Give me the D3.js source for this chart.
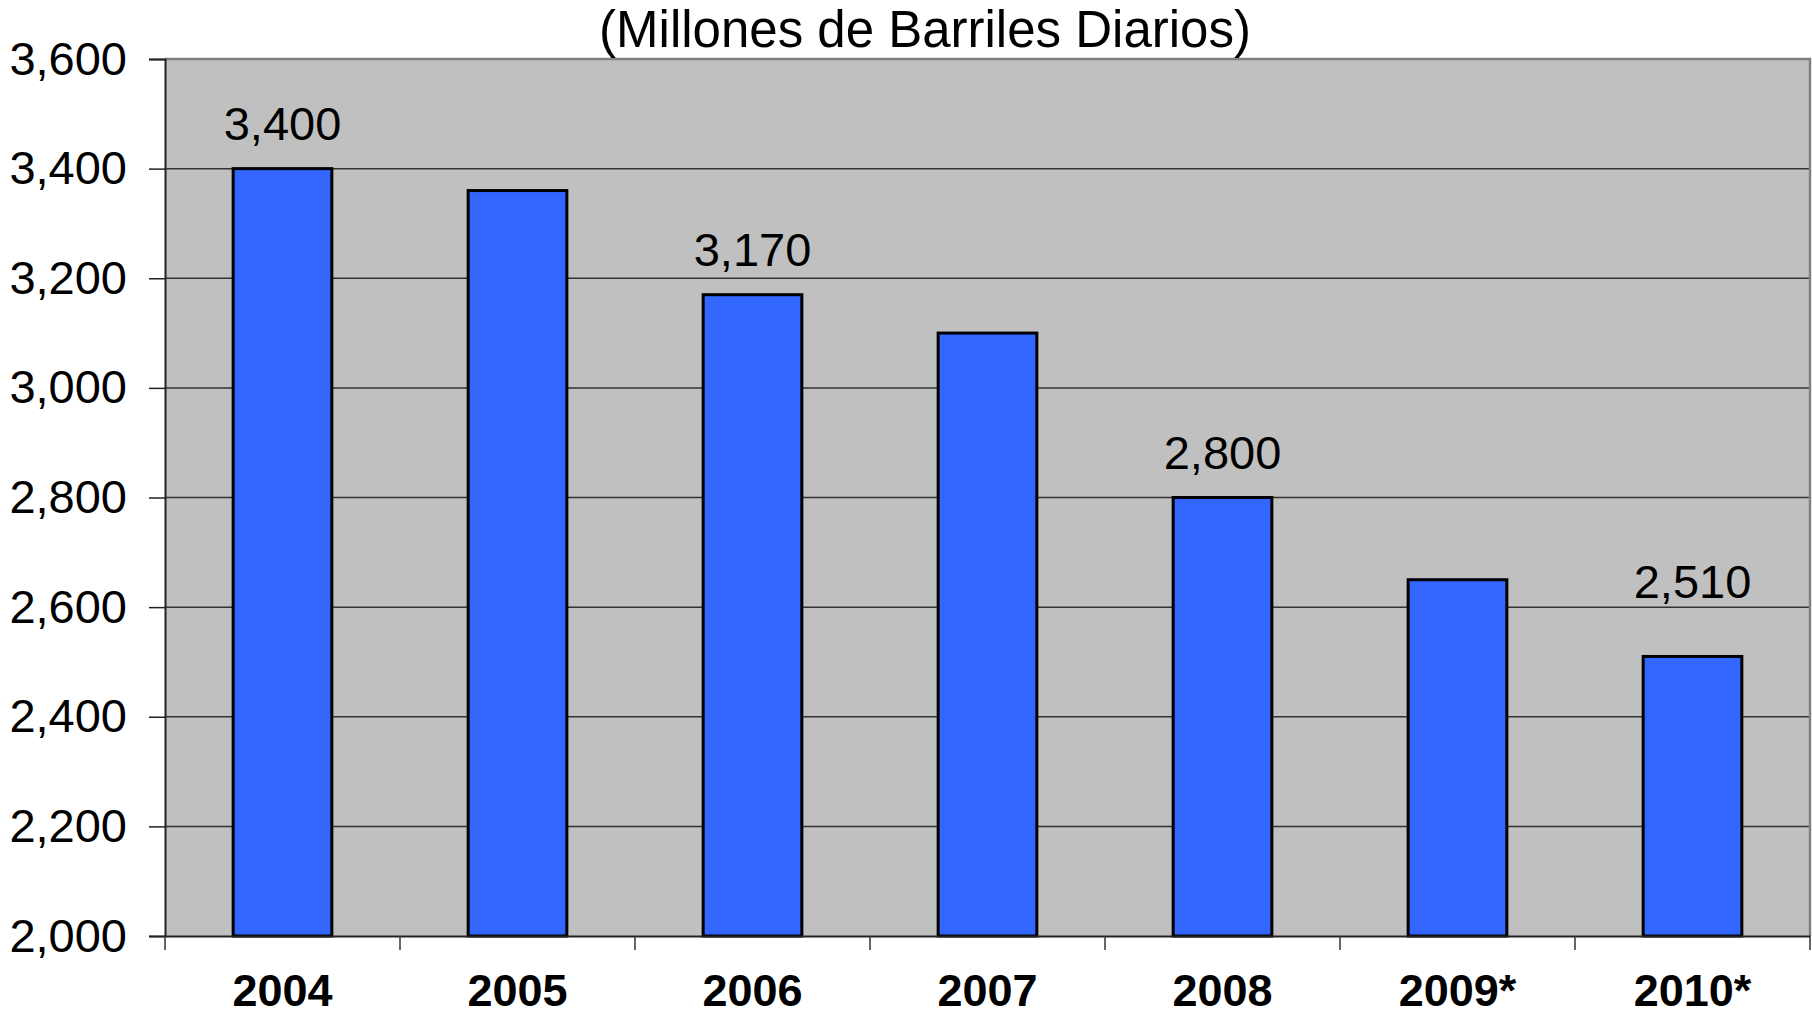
<!DOCTYPE html>
<html>
<head>
<meta charset="utf-8">
<script src="https://cdn.jsdelivr.net/npm/d3@7"></script>
<style>
  html, body { margin: 0; padding: 0; background: #fff; }
  svg { display: block; }
</style>
</head>
<body>
<script>
// Data
const years = ["2004", "2005", "2006", "2007", "2008", "2009*", "2010*"];
const production = [3400, 3360, 3170, 3100, 2800, 2650, 2510];
const labelledYears = ["2004", "2006", "2008", "2010*"];
const yTicks = [2000, 2200, 2400, 2600, 2800, 3000, 3200, 3400, 3600];
const titleText = "(Millones de Barriles Diarios)";

// Canvas config
const config = { width: 1812, height: 1016 };
const plot = { left: 165, top: 59, right: 1810, bottom: 936 };

const svg = d3.select("body").append("svg")
  .attr("width", config.width)
  .attr("height", config.height);

const x = d3.scaleBand()
  .domain(years)
  .range([plot.left, plot.right])
  .padding(0);

const y = d3.scaleLinear()
  .domain([2000, 3600])
  .range([plot.bottom, plot.top]);

const fontFamily = "Arial, 'Liberation Sans', Helvetica, sans-serif";

// Plot background
svg.append("rect")
  .attr("x", plot.left)
  .attr("y", plot.top)
  .attr("width", plot.right - plot.left)
  .attr("height", plot.bottom - plot.top)
  .attr("fill", "#c0c0c0");

// Gridlines
svg.append("g")
  .selectAll("line")
  .data(yTicks.filter(d => d > 2000 && d < 3600))
  .join("line")
  .attr("x1", plot.left)
  .attr("x2", plot.right)
  .attr("y1", d => y(d))
  .attr("y2", d => y(d))
  .attr("stroke", "#333")
  .attr("stroke-width", 1.5);

// plot border (top + right)
svg.append("path")
  .attr("d", `M${plot.left},${plot.top}H${plot.right}V${plot.bottom}`)
  .attr("fill", "none")
  .attr("stroke", "#808080")
  .attr("stroke-width", 2.5);

// Bars
const barWidth = x.bandwidth() * 0.42;
svg.append("g")
  .selectAll("rect")
  .data(years)
  .join("rect")
  .attr("x", d => x(d) + (x.bandwidth() - barWidth) / 2)
  .attr("y", (d, i) => y(production[i]))
  .attr("width", barWidth)
  .attr("height", (d, i) => y(2000) - y(production[i]))
  .attr("fill", "#3366ff")
  .attr("stroke", "#000")
  .attr("stroke-width", 3);

// Value labels
const labelGap = { "2010*": 58 };
svg.append("g")
  .selectAll("text")
  .data(labelledYears)
  .join("text")
  .attr("x", d => x(d) + x.bandwidth() / 2)
  .attr("y", d => y(production[years.indexOf(d)]) - (labelGap[d] || 29))
  .attr("text-anchor", "middle")
  .attr("font-family", fontFamily)
  .attr("font-size", 47)
  .attr("fill", "#000")
  .text(d => d3.format(",")(production[years.indexOf(d)]));

// Y axis
const yAxis = svg.append("g")
  .attr("transform", `translate(${plot.left},0)`)
  .call(d3.axisLeft(y).tickValues(yTicks).tickFormat(d3.format(",")).tickSize(16).tickPadding(22));
yAxis.select(".domain").attr("stroke", "#222").attr("stroke-width", 2);
yAxis.selectAll(".tick line").attr("stroke", "#222").attr("stroke-width", 1.5);
yAxis.selectAll(".tick text")
  .attr("font-family", fontFamily)
  .attr("font-size", 47)
  .attr("fill", "#000");

// X axis
const xAxis = svg.append("g")
  .attr("transform", `translate(0,${plot.bottom})`)
  .call(d3.axisBottom(x).tickSize(0));
xAxis.select(".domain").attr("stroke", "#222").attr("stroke-width", 2);
xAxis.selectAll(".tick text")
  .attr("y", 70)
  .attr("dy", 0)
  .attr("font-family", fontFamily)
  .attr("font-size", 45)
  .attr("font-weight", "bold")
  .attr("fill", "#000");

// x ticks at band edges
svg.append("g")
  .selectAll("line")
  .data(years.map(d => x(d)).concat([plot.right]))
  .join("line")
  .attr("x1", d => d)
  .attr("x2", d => d)
  .attr("y1", plot.bottom)
  .attr("y2", plot.bottom + 14)
  .attr("stroke", "#333")
  .attr("stroke-width", 1.5);

// Title
svg.append("text")
  .attr("x", 925)
  .attr("y", 47)
  .attr("text-anchor", "middle")
  .attr("font-family", fontFamily)
  .attr("font-size", 51)
  .attr("fill", "#000")
  .text(titleText);
</script>
</body>
</html>
